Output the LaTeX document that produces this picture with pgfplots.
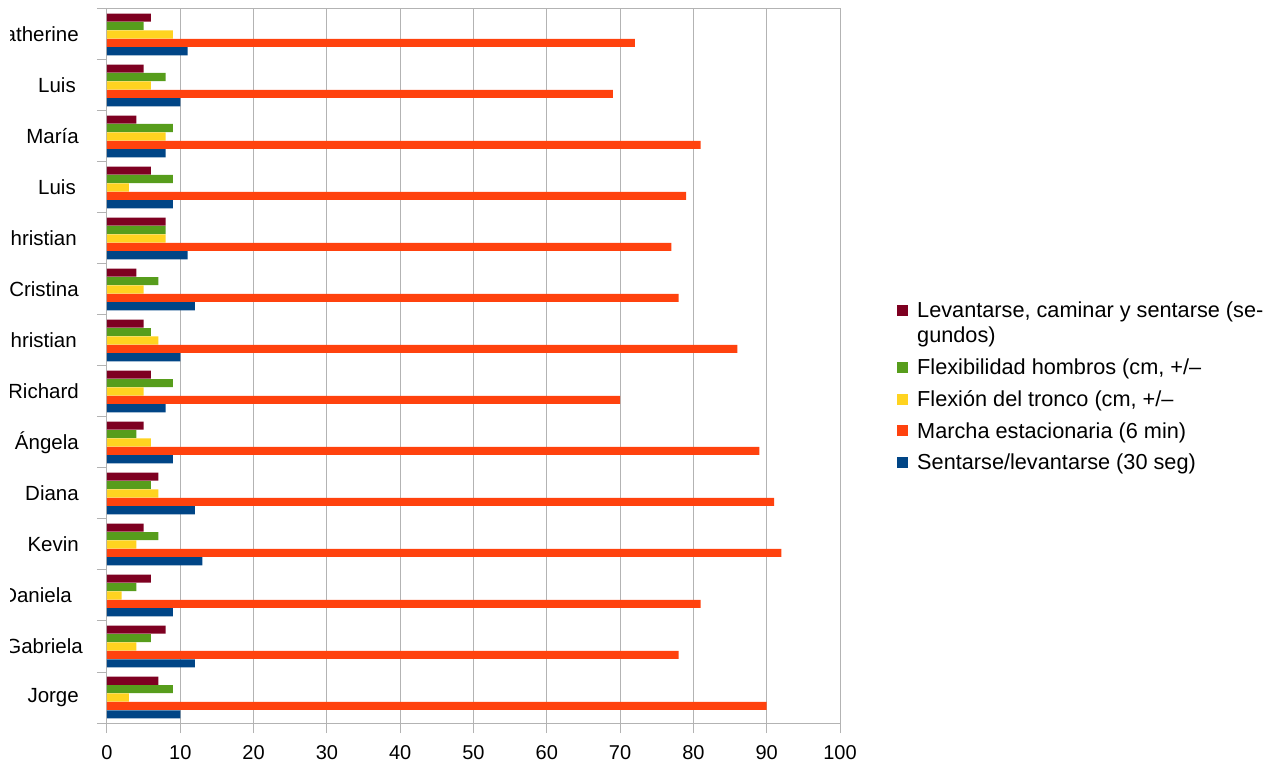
\documentclass[border=0pt]{standalone}
\usepackage{pgfplots}
\usepackage{pgfplotstable}
\pgfplotsset{compat=1.18}
\usepackage{fontspec}
\setmainfont{Liberation Sans}
\definecolor{cRed}{HTML}{7E0021}
\definecolor{cGreen}{HTML}{579D1C}
\definecolor{cYellow}{HTML}{FFD320}
\definecolor{cOrange}{HTML}{FF420E}
\definecolor{cBlue}{HTML}{004586}
\definecolor{axgray}{HTML}{B3B3B3}
\pgfplotsset{sqlegend/.style={legend image code/.code={\fill[##1] (0bp,2bp) rectangle (11bp,13bp);}}}
\pgfplotstableread{
y r g yl o b
0 7 9 3 90 10
1 8 6 4 78 12
2 6 4 2 81 9
3 5 7 4 92 13
4 7 6 7 91 12
5 5 4 6 89 9
6 6 9 5 70 8
7 5 6 7 86 10
8 4 7 5 78 12
9 8 8 8 77 11
10 6 9 3 79 9
11 4 9 8 81 8
12 5 8 6 69 10
13 6 5 9 72 11
}\data
\begin{document}
\begin{tikzpicture}
\begin{axis}[
  at={(0,0)}, anchor=south west,
  scale only axis, width=733bp, height=714bp,
  xbar, bar width=0.16,
  xmin=0, xmax=100, ymin=-0.5, ymax=13.5,
  xtick={0,10,...,100},
  ytick={0,...,13},
  yticklabels={Jorge,Gabriela\hspace*{-4bp},Daniela\hspace*{7bp},Kevin,Diana,Ángela,Richard,Christian\hspace*{2bp},Cristina,Christian\hspace*{2bp},Luis\hspace*{3bp},María,Luis\hspace*{3bp},Catherine},
  minor ytick={-0.5,0.5,...,13.5},
  tick pos=left,
  tick align=outside,
  major tick length=10bp, minor tick length=10bp,
  ytick style={draw=none},
  xtick style={draw=axgray, line width=1bp},
  minor y tick style={draw=axgray, line width=1bp},
  xmajorgrids, grid style={axgray, line width=1bp},
  axis line style={axgray, line width=1bp},
  /pgf/number format/assume math mode=true,
  xticklabel style={font=\fontsize{20bp}{24bp}\selectfont, inner sep=0pt, anchor=north, yshift=-12bp},
  yticklabel style={font=\fontsize{20.5bp}{24bp}\selectfont, inner sep=0pt, anchor=east, xshift=-18bp},
  legend style={at={(axis description cs:1.0778,0.5897)}, anchor=north west, draw=none, fill=none,
    inner sep=0pt, row sep=14.5bp, column sep=9bp, font=\fontsize{21.7bp}{25bp}\selectfont,
    cells={anchor=base west}, nodes={inner sep=0pt}},
]
\addplot[draw=none, fill=cRed, bar shift=0.33, sqlegend] table[x=r, y=y] {\data};
\addlegendentry{Levantarse, caminar y sentarse (se-}
\addlegendimage{empty legend}
\addlegendentry{\raisebox{0pt}[9bp][4.5bp]{gundos)}}
\addplot[draw=none, fill=cGreen, bar shift=0.165, sqlegend] table[x=g, y=y] {\data};
\addlegendentry{Flexibilidad hombros (cm, +/–}
\addplot[draw=none, fill=cYellow, bar shift=0, sqlegend] table[x=yl, y=y] {\data};
\addlegendentry{Flexión del tronco (cm, +/–}
\addplot[draw=none, fill=cOrange, bar shift=-0.165, sqlegend] table[x=o, y=y] {\data};
\addlegendentry{Marcha estacionaria (6 min)}
\addplot[draw=none, fill=cBlue, bar shift=-0.33, sqlegend] table[x=b, y=y] {\data};
\addlegendentry{Sentarse/levantarse (30 seg)}
\end{axis}
\fill[white] (-130bp,-40bp) rectangle (-97bp,723bp);
\pgfresetboundingbox
\useasboundingbox (-107bp,-40bp) rectangle (1170bp,723bp);
\end{tikzpicture}
\end{document}
